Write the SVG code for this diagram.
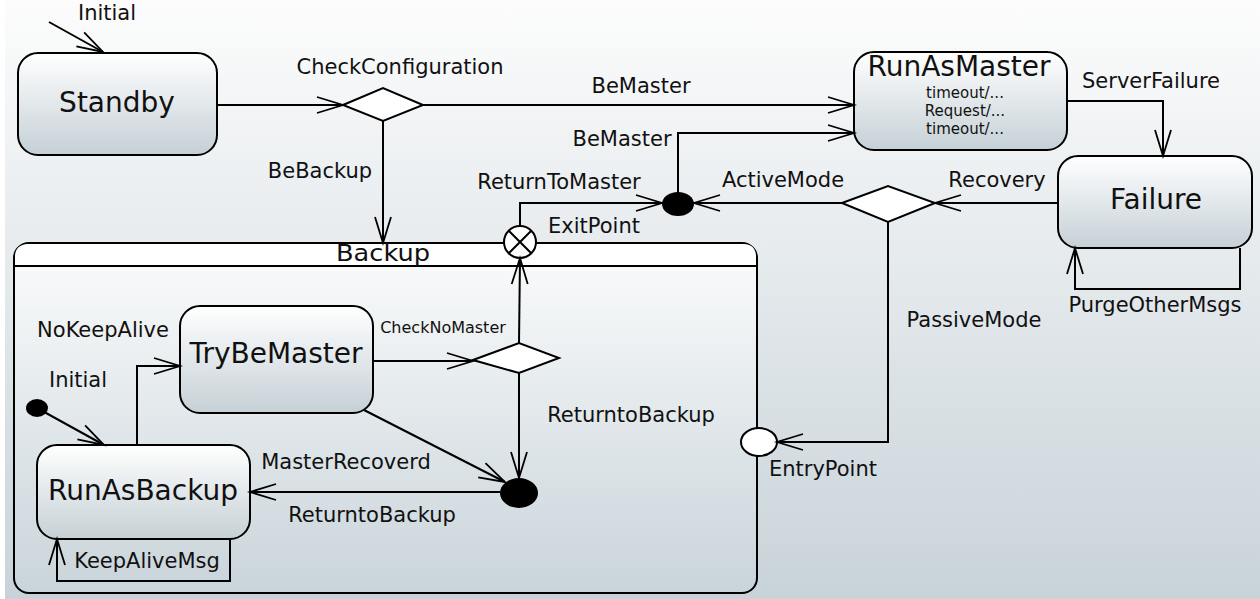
<svg xmlns="http://www.w3.org/2000/svg" width="1260" height="599" viewBox="0 0 1260 599">
<style>
text{font-family:"DejaVu Sans","Liberation Sans",sans-serif;fill:#111;}
.big{font-size:28px;text-anchor:middle;}
.lbl{font-size:21px;text-anchor:middle;}
.sm{font-size:15px;text-anchor:middle;}
.cnm{font-size:16px;text-anchor:middle;}
.ttl{font-size:23px;text-anchor:middle;}
.st{fill:url(#ng);stroke:#000;stroke-width:2;}
.ln{fill:none;stroke:#000;stroke-width:2;}
.arr{fill:none;stroke:#000;stroke-width:2;marker-end:url(#a);}
.dm{fill:#fff;stroke:#000;stroke-width:2;}
</style>
<defs>
<linearGradient id="bg" x1="0" y1="0" x2="0" y2="1">
<stop offset="0" stop-color="#fcfcfc"/>
<stop offset="1" stop-color="#c8d3d9"/>
</linearGradient>
<linearGradient id="ng" x1="0" y1="0" x2="0" y2="1">
<stop offset="0" stop-color="#ffffff"/>
<stop offset="1" stop-color="#c5d0d6"/>
</linearGradient>
<linearGradient id="cg" x1="0" y1="0" x2="0" y2="1">
<stop offset="0" stop-color="#fbfcfc"/>
<stop offset="1" stop-color="#c9d4da"/>
</linearGradient>
<marker id="a" markerUnits="userSpaceOnUse" markerWidth="30" markerHeight="20" refX="26" refY="8" orient="auto" overflow="visible">
<path d="M0,0 L26,8 L0,16" fill="none" stroke="#000" stroke-width="1.8"/>
</marker>
</defs>
<rect x="0" y="0" width="1260" height="599" fill="#fff"/>
<rect x="5" y="0" width="1255" height="599" fill="url(#bg)"/>

<g id="Backup">
<rect x="14" y="243" width="743" height="350" rx="15" fill="url(#cg)" stroke="#000" stroke-width="2"/>
<path d="M29,244 L743,244 Q756,244 756,257 L756,265 L15,265 L15,257 Q15,244 29,244 Z" fill="#fff" stroke="none"/>
<path d="M15,266 L756,266" class="ln"/>
<text class="ttl" x="383" y="261" textLength="94" lengthAdjust="spacingAndGlyphs">Backup</text>
</g>

<g id="Standby">
<rect class="st" x="18" y="53" width="199" height="102" rx="20"/>
<text class="big" x="117" y="112">Standby</text>
</g>

<g id="CheckConfiguration">
<polygon class="dm" points="343,105 383,88 423,105 383,121"/>
</g>

<g id="RunAsMaster">
<rect class="st" x="854" y="52" width="213" height="98" rx="20"/>
<text class="big" x="959" y="76">RunAsMaster</text>
<text class="sm" x="965" y="98">timeout/...</text>
<text class="sm" x="965" y="116">Request/...</text>
<text class="sm" x="965" y="134">timeout/...</text>
</g>

<g id="Failure">
<rect class="st" x="1058" y="156" width="194" height="92" rx="20"/>
<text class="big" x="1156" y="209">Failure</text>
</g>

<g id="ModeChoice">
<polygon class="dm" points="842,203 888,186 935,203 888,222"/>
</g>

<g id="Junction">
<ellipse cx="678" cy="204" rx="16" ry="12" fill="#000"/>
</g>

<g id="ExitPoint">
<circle cx="520" cy="242" r="16" fill="#fff" stroke="#000" stroke-width="2"/>
<path d="M509,231 L531,253 M531,231 L509,253" class="ln"/>
</g>

<g id="EntryPoint">
<ellipse cx="759" cy="442" rx="18" ry="14" fill="#fff" stroke="#000" stroke-width="2"/>
</g>

<g id="TryBeMaster">
<rect class="st" x="180" y="306" width="193" height="107" rx="20"/>
<text class="big" x="276" y="363">TryBeMaster</text>
</g>

<g id="CheckNoMasterChoice">
<polygon class="dm" points="473,360 519,343 559,358 519,373"/>
</g>

<g id="InitialInner">
<ellipse cx="37" cy="408" rx="11" ry="9" fill="#000"/>
</g>

<g id="RunAsBackup">
<rect class="st" x="37" y="445" width="213" height="94" rx="20"/>
<text class="big" x="143" y="500">RunAsBackup</text>
</g>

<g id="BackupJunction">
<ellipse cx="519" cy="493" rx="19" ry="15" fill="#000"/>
</g>

<g id="connectors">
<path class="arr" d="M49,22 L103,52"/>
<path class="arr" d="M217,105 L343,105"/>
<path class="arr" d="M423,105 L854,105"/>
<path class="arr" d="M383,121 L383,243"/>
<path class="arr" d="M678,193 L678,133 L854,133"/>
<path class="arr" d="M520,226 L520,203 L662,203"/>
<path class="arr" d="M842,203 L694,203"/>
<path class="arr" d="M1058,203 L935,203"/>
<path class="arr" d="M1067,101 L1163,101 L1163,156"/>
<path class="arr" d="M1240,248 L1240,289 L1075,289 L1075,248"/>
<path class="arr" d="M888,222 L888,442 L777,442"/>
<path class="arr" d="M519,343 L520,258"/>
<path class="arr" d="M373,361 L473,361"/>
<path class="arr" d="M519,373 L519,478"/>
<path class="arr" d="M364,410 L505,482"/>
<path class="arr" d="M500,492 L250,492"/>
<path class="arr" d="M137,445 L137,366 L180,366"/>
<path class="arr" d="M37,408 L104,445"/>
<path class="arr" d="M230,539 L230,581 L57,581 L57,539"/>
</g>

<g id="labels">
<text class="lbl" x="107" y="20">Initial</text>
<text class="lbl" x="400" y="74">CheckConfiguration</text>
<text class="lbl" x="641" y="93">BeMaster</text>
<text class="lbl" x="622" y="146">BeMaster</text>
<text class="lbl" x="320" y="178">BeBackup</text>
<text class="lbl" x="559" y="189">ReturnToMaster</text>
<text class="lbl" x="783" y="187">ActiveMode</text>
<text class="lbl" x="594" y="233">ExitPoint</text>
<text class="lbl" x="1151" y="88">ServerFailure</text>
<text class="lbl" x="997" y="187">Recovery</text>
<text class="lbl" x="1155" y="312">PurgeOtherMsgs</text>
<text class="lbl" x="974" y="327">PassiveMode</text>
<text class="lbl" x="823" y="476">EntryPoint</text>
<text class="lbl" x="103" y="337">NoKeepAlive</text>
<text class="lbl" x="78" y="387">Initial</text>
<text class="cnm" x="443" y="333">CheckNoMaster</text>
<text class="lbl" x="631" y="422">ReturntoBackup</text>
<text class="lbl" x="346" y="469">MasterRecoverd</text>
<text class="lbl" x="372" y="522">ReturntoBackup</text>
<text class="lbl" x="147" y="568">KeepAliveMsg</text>
</g>
</svg>
